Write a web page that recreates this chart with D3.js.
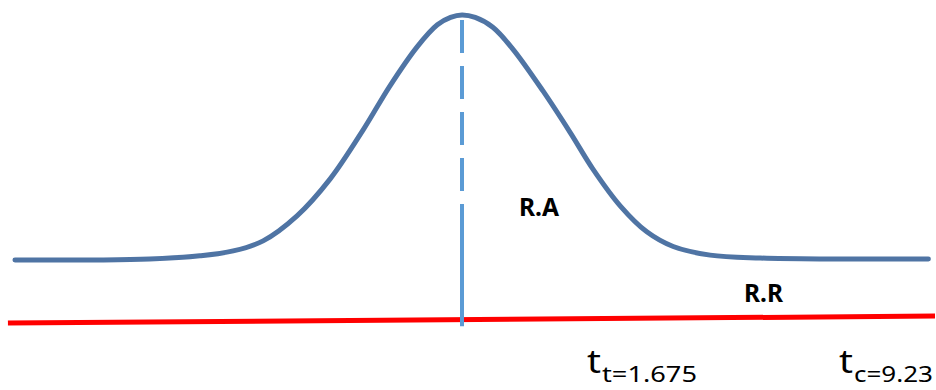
<!DOCTYPE html>
<html>
<head>
<meta charset="utf-8">
<script src="https://cdnjs.cloudflare.com/ajax/libs/d3/7.8.5/d3.min.js"></script>
<style>
  body { margin: 0; background: #fff; }
</style>
</head>
<body>
<script>
var width = 936,
    height = 390;

// bell curve (x in sigma units, y relative to the peak)
var curveX = [-5.08, -4.11, -3.55, -2.98, -2.60, -2.26, -1.875, -1.5, -1.125, -0.82, -0.51, -0.28, -0.13, 0,
              0.15, 0.35, 0.58, 0.92, 1.23, 1.49, 1.80, 2.10, 2.40, 2.82, 3.39, 4.2, 5.30];
var curveY = [0, 0, 0.004, 0.017, 0.037, 0.078, 0.18, 0.33, 0.53, 0.71, 0.87, 0.96, 0.99, 1.0,
              0.99, 0.95, 0.86, 0.69, 0.52, 0.37, 0.22, 0.115, 0.055, 0.02, 0.008, 0.004, 0.004];

// mean line and the red base line
var meanX = [0, 0],
    meanY = [0.98, -0.27];
var baseX = [-5.16, 5.375],
    baseY = [-0.257, -0.229];

var regionLabels = ["R.A", "R.R"];
var tMain = ["t", "t"],
    tSubs = ["t=1.675", "c=9.23"];

var x = d3.scaleLinear().domain([-5, 5]).range([22, 902]);
var y = d3.scaleLinear().domain([0, 1]).range([260, 15]);

var svg = d3.select("body").append("svg")
    .attr("width", width)
    .attr("height", height)
    .style("background", "#fff");

var zip = function(xs, ys) {
    return xs.map(function(d, i) { return [d, ys[i]]; });
};

var line = d3.line()
    .x(function(d) { return x(d[0]); })
    .y(function(d) { return y(d[1]); });

// red base line
svg.append("path")
    .datum(zip(baseX, baseY))
    .attr("d", line)
    .attr("fill", "none")
    .attr("stroke", "#ff0000")
    .attr("stroke-width", 5);

// dashed mean line
svg.append("path")
    .datum(zip(meanX, meanY))
    .attr("d", line)
    .attr("fill", "none")
    .attr("stroke", "#5b9bd5")
    .attr("stroke-width", 4)
    .attr("stroke-dasharray", "33,13,33,13,33,13,33,13,400");

// the curve
svg.append("path")
    .datum(zip(curveX, curveY))
    .attr("d", d3.line()
        .x(function(d) { return x(d[0]); })
        .y(function(d) { return y(d[1]); })
        .curve(d3.curveCatmullRom.alpha(0.5)))
    .attr("fill", "none")
    .attr("stroke", "#4f74a4")
    .attr("stroke-width", 5)
    .attr("stroke-linecap", "round");

// region labels
var regionPos = [[519, 216, 40], [744, 302, 39]];
svg.selectAll("text.region")
    .data(regionLabels)
    .enter().append("text")
    .attr("class", "region")
    .attr("x", function(d, i) { return regionPos[i][0]; })
    .attr("y", function(d, i) { return regionPos[i][1]; })
    .attr("textLength", function(d, i) { return regionPos[i][2]; })
    .attr("lengthAdjust", "spacingAndGlyphs")
    .style("font-family", "'Noto Sans', 'Open Sans', sans-serif")
    .style("font-weight", "bold")
    .style("font-size", "25px")
    .style("fill", "#000")
    .text(function(d) { return d; });

// t labels
var tPos = [[587, 602, 95], [839, 854, 79]];
var tg = svg.selectAll("g.tlab")
    .data(tMain)
    .enter().append("g")
    .attr("class", "tlab");

tg.append("text")
    .attr("x", function(d, i) { return tPos[i][0]; })
    .attr("y", 373)
    .attr("textLength", 14)
    .attr("lengthAdjust", "spacingAndGlyphs")
    .style("font-family", "'Noto Sans', 'Open Sans', sans-serif")
    .style("font-size", "32px")
    .style("fill", "#000")
    .text(function(d) { return d; });

tg.append("text")
    .attr("x", function(d, i) { return tPos[i][1]; })
    .attr("y", 382)
    .attr("textLength", function(d, i) { return tPos[i][2]; })
    .attr("lengthAdjust", "spacingAndGlyphs")
    .style("font-family", "'Noto Sans', 'Open Sans', sans-serif")
    .style("font-size", "22px")
    .style("fill", "#000")
    .text(function(d, i) { return tSubs[i]; });
</script>
</body>
</html>
